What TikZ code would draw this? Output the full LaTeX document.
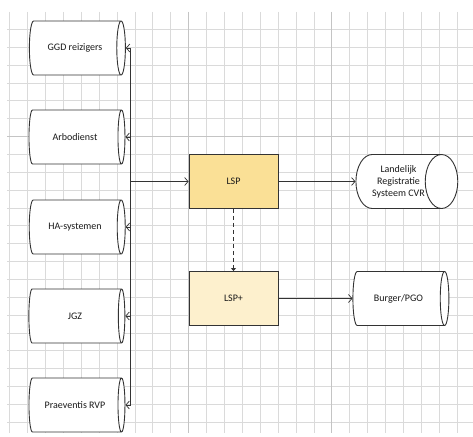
\documentclass[tikz,border=0pt]{standalone}
\usepackage{fontspec}
\setmainfont{Carlito}
\usetikzlibrary{shapes.geometric,arrows.meta}
\definecolor{gridc}{HTML}{DADADA}
\definecolor{gridd}{HTML}{C4C4C4}
\definecolor{linec}{HTML}{333333}
\definecolor{lspfill}{HTML}{FAE096}
\definecolor{lsppfill}{HTML}{FDF0CD}
\tikzset{
  db/.style={cylinder, draw=linec, line width=0.9pt, fill=white, minimum width=54pt, minimum height=96pt,
    aspect=1, inner sep=0pt, font=\fontsize{10}{12}\selectfont, text=black!90, align=center},
  proc/.style={rectangle, draw=linec, line width=0.9pt, minimum width=89pt, minimum height=54pt,
    inner sep=0pt, font=\fontsize{10}{12}\selectfont, text=black!90},
  conn/.style={draw=linec, line width=0.7pt},
  arr/.style={conn, -{Straight Barb[length=3.5pt,width=8pt]}},
}
\begin{document}
\begin{tikzpicture}[x=1pt,y=-1pt]
\useasboundingbox[fill=white] (0,0) rectangle (473,436);
% grid
\foreach \k in {0,...,25} {\draw[gridc, line width=0.8pt] (9.6+17.9*\k,12) -- (9.6+17.9*\k,433);}
\foreach \k in {1,...,23} {\draw[gridc, line width=0.8pt] (7,11.6+17.85*\k) -- (473,11.6+17.85*\k);}
\draw[gridd, line width=1.1pt] (188.6,12) -- (188.6,433);
\draw[gridd, line width=1.1pt] (331.8,12) -- (331.8,433);
\draw[gridd, line width=1.1pt] (7,136.5) -- (473,136.5);
% nodes
\node[db] (ggd) at (75,48) {GGD reizigers};
\node[db] (arbo) at (75,137) {Arbodienst};
\node[db] (ha) at (75,227) {HA-systemen};
\node[db] (jgz) at (75,316) {JGZ};
\node[db] (prae) at (75,405) {Praeventis RVP};
\node[proc, fill=lspfill] (lsp) at (233.5,181.5) {LSP};
\node[proc, fill=lsppfill] (lspp) at (233.5,298.5) {LSP+};
\node[db] (lrs) at (398.5,181.5) {Landelijk\\Registratie\\Systeem CVR};
\node[db] (burger) at (398.5,298.5) {Burger/PGO};
% trunk
\coordinate (trunk) at (130.5,0);
\draw[conn] (ggd.east -| trunk) -- (prae.east -| trunk);
\foreach \n in {ggd,arbo,ha,jgz,prae} {\draw[arr] (\n.east -| trunk) -- (\n.east);}
\draw[arr] (lsp.west -| trunk) -- (lsp.west);
\draw[arr] (lsp) -- (lrs);
\draw[arr] (lspp) -- (burger);
\draw[conn, dashed, dash pattern=on 4pt off 3pt, -{Triangle[length=3pt,width=5pt]}] (lsp) -- (lspp);
\end{tikzpicture}
\end{document}
